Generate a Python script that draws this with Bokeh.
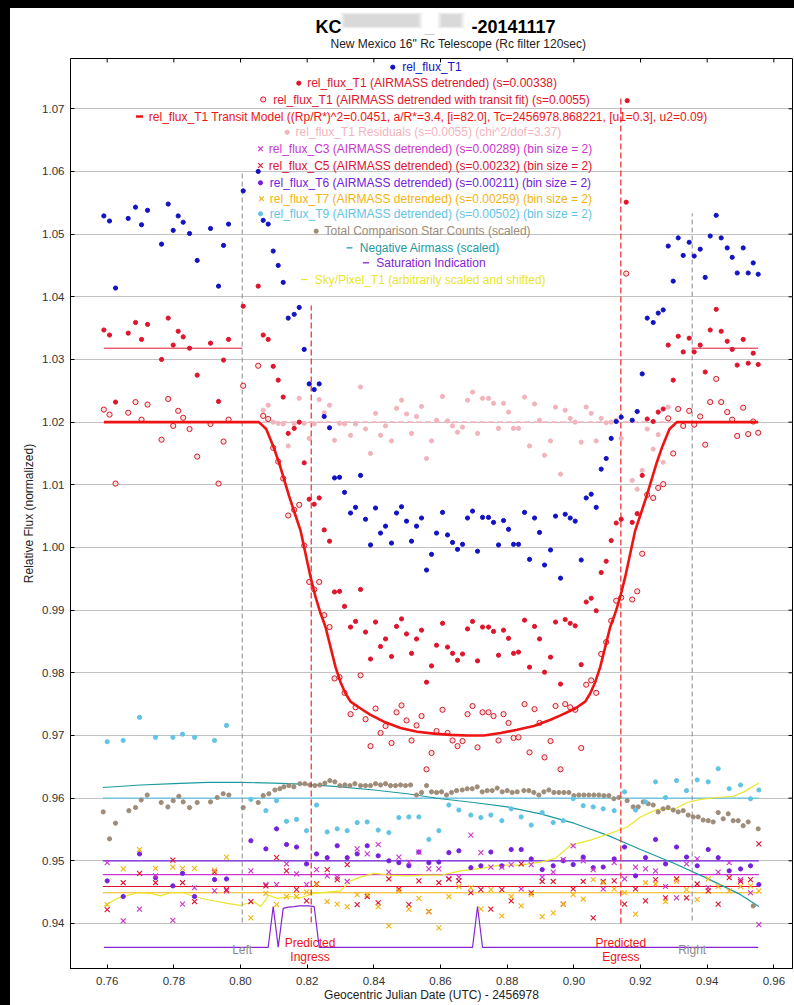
from bokeh.plotting import figure
from bokeh.models import Range1d, FixedTicker, PrintfTickFormatter, Div
from bokeh.layouts import column, row
from bokeh.embed import file_html
from bokeh.resources import INLINE
from bokeh.core.properties import value

nan = float("nan")

# ---------------------------------------------------------------- data
# Geocentric JD - 2456978 of each exposure of the target
t_obs = [
    0.7590, 0.7607, 0.7625, 0.7663, 0.7685, 0.7703, 0.7721, 0.7763, 0.7783, 0.7798,
    0.7813, 0.7828, 0.7847, 0.7870, 0.7910, 0.7934, 0.7949, 0.7964, 0.8008, 0.8053,
    0.8068, 0.8083, 0.8098, 0.8113, 0.8128, 0.8143, 0.8161, 0.8176, 0.8191, 0.8206,
    0.8221, 0.8236, 0.8251, 0.8267, 0.8282, 0.8297, 0.8312, 0.8330, 0.8345, 0.8360,
    0.8375, 0.8390, 0.8405, 0.8420, 0.8435, 0.8453, 0.8468, 0.8483, 0.8498, 0.8513,
    0.8528, 0.8543, 0.8558, 0.8573, 0.8588, 0.8606, 0.8621, 0.8636, 0.8651, 0.8666,
    0.8681, 0.8696, 0.8711, 0.8726, 0.8744, 0.8759, 0.8774, 0.8789, 0.8804, 0.8819,
    0.8834, 0.8852, 0.8867, 0.8882, 0.8897, 0.8912, 0.8930, 0.8945, 0.8960, 0.8974,
    0.8989, 0.9004, 0.9022, 0.9037, 0.9052, 0.9067, 0.9082, 0.9097, 0.9112, 0.9127,
    0.9142, 0.9157, 0.9160, 0.9175, 0.9190, 0.9205, 0.9220, 0.9238, 0.9253, 0.9268,
    0.9283, 0.9298, 0.9313, 0.9328, 0.9346, 0.9361, 0.9379, 0.9394, 0.9409, 0.9427,
    0.9442, 0.9460, 0.9475, 0.9490, 0.9508, 0.9523, 0.9538, 0.9553]

rel_flux_T1 = [
    1.0529, 1.0521, 1.0414, 1.0525, 1.0543, 1.0515, 1.0538, 1.0484, 1.0548, 1.0506,
    1.0529, 1.0519, 1.0501, 1.0458, 1.0509, 1.0417, 1.0482, 1.0516, 1.0569, 1.0600,
    1.0522, 1.0516, 1.0473, 1.0450, 1.0423, 1.0366, 1.0372, 1.0383, 1.0316, 1.0261,
    1.0252, 1.0261, 1.0209, 1.0191, 1.0111, 1.0112, 1.0088, 1.0055, 1.0064, 1.0115,
    1.0045, 1.0004, 1.0063, 1.0023, 1.0034, 1.0007, 1.0055, 1.0065, 1.0042, 1.0010,
    1.0034, 1.0047, 0.9964, 0.9989, 1.0023, 1.0056, 1.0020, 1.0008, 0.9997, 1.0005,
    1.0047, 1.0058, 0.9994, 1.0048, 1.0048, 1.0040, 1.0004, 1.0043, 1.0029, 1.0005,
    1.0005, 1.0056, 0.9981, 1.0047, 1.0024, 0.9972, 0.9996, 1.0050, 0.9951, 1.0053,
    1.0047, 1.0042, 0.9980, 1.0079, 1.0085, 1.0064, 1.0125, 1.0142, 1.0174, 1.0201,
    1.0208, nan, nan, 1.0203, 1.0217, 1.0277, 1.0366, 1.0359, 1.0374, 1.0379,
    1.0481, 1.0425, 1.0494, 1.0466, 1.0487, 1.0465, 1.0476, 1.0431, 1.0497, 1.0530,
    1.0494, 1.0478, 1.0463, 1.0438, 1.0478, 1.0438, 1.0454, 1.0436]

rel_flux_T1_detr = [
    1.0347, 1.0339, 1.0232, 1.0342, 1.0359, 1.0332, 1.0356, 1.0300, 1.0366, 1.0323,
    1.0345, 1.0336, 1.0318, 1.0275, 1.0326, 1.0233, 1.0299, 1.0332, 1.0385, 1.0417,
    1.0339, 1.0332, 1.0289, 1.0267, 1.0240, 1.0182, 1.0190, 1.0200, 1.0135, 1.0077,
    1.0069, 1.0079, 1.0028, 1.0010, 0.9929, 0.9930, 0.9906, 0.9873, 0.9882, 0.9933,
    0.9865, 0.9822, 0.9881, 0.9842, 0.9854, 0.9826, 0.9874, 0.9886, 0.9862, 0.9831,
    0.9854, 0.9868, 0.9785, 0.9811, 0.9844, 0.9879, 0.9841, 0.9831, 0.9820, 0.9830,
    0.9870, 0.9882, 0.9819, 0.9873, 0.9873, 0.9866, 0.9828, 0.9868, 0.9855, 0.9831,
    0.9833, 0.9884, 0.9809, 0.9874, 0.9854, 0.9801, 0.9825, 0.9881, 0.9782, 0.9885,
    0.9879, 0.9875, 0.9813, 0.9913, 0.9919, 0.9899, 0.9960, 0.9978, 1.0011, 1.0039,
    1.0045, 1.0551, 1.0713, 1.0040, 1.0054, 1.0115, 1.0205, 1.0201, 1.0216, 1.0221,
    1.0323, 1.0267, 1.0337, 1.0312, 1.0334, 1.0312, 1.0323, 1.0280, 1.0347, 1.0380,
    1.0345, 1.0329, 1.0316, 1.0291, 1.0332, 1.0294, 1.0310, 1.0292]

rel_flux_T1_fit = [
    1.0220, 1.0212, 1.0102, 1.0215, 1.0232, 1.0204, 1.0228, 1.0172, 1.0237, 1.0194,
    1.0218, 1.0207, 1.0189, 1.0145, 1.0197, 1.0102, 1.0169, 1.0204, 1.0258, 1.0290,
    1.0210, 1.0205, 1.0159, 1.0137, 1.0110, 1.0051, 1.0060, 1.0068, 1.0003, 0.9945,
    0.9933, 0.9945, 0.9892, 0.9873, 0.9791, 0.9793, 0.9768, 0.9734, 0.9745, 0.9796,
    0.9726, 0.9683, 0.9743, 0.9704, 0.9715, 0.9688, 0.9737, 0.9748, 0.9724, 0.9692,
    0.9716, 0.9731, 0.9646, 0.9672, 0.9707, 0.9741, 0.9704, 0.9692, 0.9683, 0.9691,
    0.9734, 0.9747, 0.9681, 0.9737, 0.9737, 0.9731, 0.9692, 0.9734, 0.9720, 0.9696,
    0.9697, 0.9750, 0.9673, 0.9742, 0.9720, 0.9665, 0.9691, 0.9747, 0.9646, 0.9750,
    0.9745, 0.9741, 0.9680, 0.9781, 0.9788, 0.9768, 0.9830, 0.9849, 0.9883, 0.9915,
    0.9920, 1.0437, nan, 0.9917, 0.9930, 0.9990, 1.0084, 1.0079, 1.0095, 1.0101,
    1.0206, 1.0150, 1.0221, 1.0194, 1.0218, 1.0196, 1.0209, 1.0164, 1.0232, 1.0269,
    1.0232, 1.0216, 1.0204, 1.0178, 1.0223, 1.0181, 1.0201, 1.0183]

rel_flux_T1_resid = [
    nan, nan, nan, nan, nan, nan, nan, nan, nan, nan,
    nan, nan, nan, nan, nan, nan, nan, nan, nan, nan,
    1.0219, 1.0227, 1.0200, 1.0198, 1.0197, 1.0162, 1.0197, 1.0238, 1.0198, 1.0174,
    1.0197, 1.0236, 1.0215, 1.0227, 1.0171, 1.0198, 1.0197, 1.0179, 1.0197, 1.0256,
    1.0189, 1.0150, 1.0214, 1.0179, 1.0194, 1.0170, 1.0222, 1.0235, 1.0213, 1.0182,
    1.0209, 1.0225, 1.0142, 1.0170, 1.0203, 1.0241, 1.0202, 1.0194, 1.0184, 1.0192,
    1.0235, 1.0248, 1.0182, 1.0238, 1.0238, 1.0230, 1.0190, 1.0230, 1.0216, 1.0190,
    1.0190, 1.0240, 1.0162, 1.0229, 1.0203, 1.0147, 1.0170, 1.0224, 1.0117, 1.0219,
    1.0206, 1.0200, 1.0168, 1.0224, 1.0214, 1.0170, 1.0206, 1.0199, 1.0200, 1.0203,
    1.0174, nan, nan, 1.0107, 1.0093, 1.0123, 1.0189, 1.0157, 1.0180, 1.0136,
    1.0224, nan, nan, nan, nan, nan, nan, nan, nan, nan,
    nan, nan, nan, nan, nan, nan, nan, nan]

# transit model of the detrended light curve
t_model = [
    0.7590, 0.8055, 0.8077, 0.8100, 0.8115, 0.8130, 0.8145, 0.8165, 0.8180, 0.8195,
    0.8210, 0.8225, 0.8240, 0.8255, 0.8270, 0.8285, 0.8300, 0.8315, 0.8330, 0.8360,
    0.8390, 0.8430, 0.8480, 0.8530, 0.8580, 0.8630, 0.8680, 0.8730, 0.8780, 0.8830,
    0.8880, 0.8930, 0.8960, 0.9004, 0.9034, 0.9049, 0.9064, 0.9079, 0.9094, 0.9109,
    0.9124, 0.9139, 0.9154, 0.9169, 0.9184, 0.9199, 0.9219, 0.9234, 0.9249, 0.9264,
    0.9287, 0.9309, 0.9553]
model_T1 = [
    1.0200, 1.0200, 1.0189, 1.0159, 1.0136, 1.0110, 1.0083, 1.0051, 1.0027, 0.9990,
    0.9953, 0.9921, 0.9895, 0.9873, 0.9841, 0.9809, 0.9785, 0.9767, 0.9754, 0.9743,
    0.9733, 0.9722, 0.9712, 0.9706, 0.9703, 0.9701, 0.9700, 0.9700, 0.9704, 0.9709,
    0.9715, 0.9725, 0.9732, 0.9743, 0.9754, 0.9767, 0.9785, 0.9809, 0.9841, 0.9873,
    0.9895, 0.9921, 0.9953, 0.9990, 1.0027, 1.0051, 1.0083, 1.0110, 1.0136, 1.0159,
    1.0189, 1.0200, 1.0200]

# out-of-transit mean of the detrended target, residual baseline
detr_mean_level = 1.0318
resid_level = 1.0200

# total comparison star counts (scaled)
t_comp = [
    0.7588, 0.7607, 0.7625, 0.7665, 0.7685, 0.7702, 0.7720, 0.7762, 0.7782, 0.7798,
    0.7815, 0.7828, 0.7847, 0.7870, 0.7910, 0.7930, 0.7948, 0.7965, 0.8008, 0.8053,
    0.8068, 0.8085, 0.8103, 0.8118, 0.8130, 0.8145, 0.8160, 0.8178, 0.8193, 0.8208,
    0.8223, 0.8238, 0.8253, 0.8268, 0.8283, 0.8298, 0.8313, 0.8328, 0.8343, 0.8360,
    0.8375, 0.8390, 0.8405, 0.8420, 0.8435, 0.8450, 0.8465, 0.8480, 0.8495, 0.8510,
    0.8528, 0.8543, 0.8558, 0.8573, 0.8588, 0.8603, 0.8618, 0.8633, 0.8648, 0.8665,
    0.8680, 0.8695, 0.8710, 0.8725, 0.8740, 0.8755, 0.8770, 0.8785, 0.8800, 0.8815,
    0.8830, 0.8850, 0.8865, 0.8880, 0.8895, 0.8910, 0.8925, 0.8940, 0.8955, 0.8970,
    0.8985, 0.9000, 0.9015, 0.9030, 0.9045, 0.9060, 0.9075, 0.9090, 0.9105, 0.9120,
    0.9135, 0.9160, 0.9178, 0.9193, 0.9208, 0.9223, 0.9238, 0.9253, 0.9268, 0.9283,
    0.9298, 0.9313, 0.9328, 0.9343, 0.9358, 0.9373, 0.9388, 0.9403, 0.9418, 0.9433,
    0.9448, 0.9463, 0.9478, 0.9493, 0.9508, 0.9523, 0.9538, 0.9553]
comp_counts = [
    0.9578, 0.9535, 0.9560, 0.9580, 0.9585, 0.9597, 0.9605, 0.9593, 0.9586, 0.9596,
    0.9603, 0.9594, 0.9585, 0.9593, 0.9594, 0.9601, 0.9607, 0.9605, 0.9585, 0.9593,
    0.9604, 0.9607, 0.9613, 0.9615, 0.9618, 0.9620, 0.9618, 0.9623, 0.9623, 0.9621,
    0.9620, 0.9621, 0.9624, 0.9628, 0.9626, 0.9620, 0.9621, 0.9620, 0.9623, 0.9620,
    0.9620, 0.9620, 0.9623, 0.9621, 0.9623, 0.9620, 0.9620, 0.9621, 0.9620, 0.9621,
    0.9605, 0.9609, 0.9620, 0.9610, 0.9609, 0.9610, 0.9605, 0.9609, 0.9612, 0.9613,
    0.9615, 0.9615, 0.9618, 0.9610, 0.9612, 0.9612, 0.9616, 0.9610, 0.9612, 0.9609,
    0.9610, 0.9612, 0.9612, 0.9609, 0.9605, 0.9610, 0.9613, 0.9609, 0.9609, 0.9609,
    0.9609, 0.9604, 0.9605, 0.9605, 0.9605, 0.9605, 0.9605, 0.9604, 0.9604, 0.9599,
    0.9601, 0.9596, 0.9586, 0.9586, 0.9594, 0.9591, 0.9589, 0.9578, 0.9583, 0.9585,
    0.9581, 0.9578, 0.9580, 0.9573, 0.9570, 0.9570, 0.9565, 0.9564, 0.9562, 0.9577,
    0.9567, 0.9575, 0.9564, 0.9564, 0.9556, 0.9562, 0.9428, 0.9551]

# comparison / check stars, binned by 2
t_bin = [
    0.7600, 0.7648, 0.7697, 0.7745, 0.7797, 0.7826, 0.7862, 0.7922, 0.7958,
    0.8031, 0.8076, 0.8108, 0.8138, 0.8168, 0.8198, 0.8228, 0.8260, 0.8290, 0.8320,
    0.8350, 0.8380, 0.8413, 0.8445, 0.8475, 0.8505, 0.8535, 0.8565, 0.8595, 0.8625,
    0.8655, 0.8691, 0.8721, 0.8751, 0.8784, 0.8812, 0.8842, 0.8872, 0.8905, 0.8938,
    0.8968, 0.8998, 0.9028, 0.9058, 0.9088, 0.9121, 0.9152, 0.9185, 0.9215, 0.9245,
    0.9275, 0.9308, 0.9338, 0.9370, 0.9403, 0.9433, 0.9466, 0.9500, 0.9530, 0.9555]
rel_flux_C3 = [
    0.9497, 0.9404, 0.9423, 0.9476, 0.9405, 0.9431, 0.9457, 0.9452, 0.9452,
    0.9484, 0.9462, 0.9462, 0.9495, 0.9479, 0.9462, 0.9486, 0.9476, 0.9474, 0.9467,
    0.9519, 0.9511, 0.9526, 0.9482, 0.9506, 0.9498, 0.9514, 0.9487, 0.9487, 0.9471,
    0.9474, 0.9541, 0.9513, 0.9490, 0.9490, 0.9494, 0.9455, 0.9494, 0.9474, 0.9482,
    0.9502, 0.9524, 0.9500, 0.9486, 0.9455, 0.9497, 0.9471, 0.9490, 0.9487, 0.9484,
    0.9459, 0.9441, 0.9495, 0.9503, 0.9457, 0.9482, 0.9497, 0.9470, 0.9449, 0.9398]
rel_flux_C5 = [
    0.9422, 0.9465, 0.9480, 0.9465, 0.9501, 0.9465, 0.9435, 0.9482, 0.9454,
    0.9435, 0.9460, 0.9505, 0.9484, 0.9454, 0.9436, 0.9463, 0.9486, 0.9470, 0.9494,
    0.9430, 0.9443, 0.9433, 0.9471, 0.9455, 0.9430, 0.9468, 0.9419, 0.9465, 0.9471,
    0.9468, 0.9449, 0.9454, 0.9423, 0.9454, 0.9436, 0.9495, 0.9449, 0.9467, 0.9467,
    0.9431, 0.9455, 0.9467, 0.9409, 0.9467, 0.9468, 0.9431, 0.9455, 0.9436, 0.9470,
    0.9441, 0.9471, 0.9441, 0.9463, 0.9452, 0.9431, 0.9473, 0.9467, 0.9470, 0.9527]
rel_flux_T6 = [
    0.9468, 0.9443, 0.9511, 0.9473, 0.9460, 0.9480, 0.9443, 0.9470, 0.9471,
    0.9532, 0.9519, 0.9551, 0.9526, 0.9522, 0.9495, 0.9511, 0.9505, 0.9524, 0.9505,
    0.9511, 0.9524, 0.9508, 0.9500, 0.9497, 0.9492, 0.9514, 0.9497, 0.9498, 0.9513,
    0.9516, 0.9489, 0.9492, 0.9514, 0.9492, 0.9518, 0.9518, 0.9503, 0.9486, 0.9492,
    0.9500, 0.9494, 0.9506, 0.9489, 0.9490, 0.9503, 0.9522, 0.9476, 0.9505, 0.9534,
    0.9495, 0.9522, 0.9506, 0.9492, 0.9518, 0.9505, 0.9484, 0.9487, 0.9492, 0.9462]
rel_flux_T7 = [
    0.9430, 0.9487, 0.9518, 0.9488, 0.9490, 0.9488, 0.9488, 0.9485, 0.9506,
    0.9409, 0.9448, 0.9430, 0.9443, 0.9443, 0.9450, 0.9462, 0.9435, 0.9431, 0.9427,
    0.9446, 0.9446, 0.9427, 0.9396, 0.9452, 0.9423, 0.9440, 0.9419, 0.9393, 0.9443,
    0.9459, 0.9457, 0.9423, 0.9454, 0.9412, 0.9443, 0.9428, 0.9446, 0.9411, 0.9417,
    0.9431, 0.9446, 0.9439, 0.9470, 0.9465, 0.9455, 0.9449, 0.9415, 0.9465, 0.9463,
    0.9435, 0.9467, 0.9454, 0.9438, 0.9471, 0.9459, 0.9452, 0.9459, 0.9460, 0.9452]
rel_flux_T9 = [
    0.9690, 0.9692, 0.9729, 0.9697, 0.9697, 0.9702, 0.9697, 0.9692, 0.9716,
    0.9598, 0.9580, 0.9596, 0.9563, 0.9566, 0.9548, 0.9589, 0.9546, 0.9551, 0.9548,
    0.9561, 0.9562, 0.9549, 0.9545, 0.9569, 0.9570, 0.9570, 0.9534, 0.9548, 0.9589,
    0.9581, 0.9573, 0.9569, 0.9573, 0.9564, 0.9583, 0.9570, 0.9557, 0.9577, 0.9561,
    0.9564, 0.9599, 0.9588, 0.9586, 0.9583, 0.9580, 0.9610, 0.9581, 0.9594, 0.9626,
    0.9601, 0.9628, 0.9612, 0.9629, 0.9626, 0.9647, 0.9615, 0.9621, 0.9599, 0.9613]
mean_C3, mean_C5, mean_T6, mean_T7, mean_T9 = 0.9478, 0.9459, 0.9500, 0.9449, 0.9600

# negative airmass (scaled)
t_airmass = [0.7587, 0.7700, 0.7800, 0.7900, 0.8000, 0.8100, 0.8200, 0.8300, 0.8400,
             0.8500, 0.8600, 0.8700, 0.8800, 0.8900, 0.9000, 0.9100, 0.9200, 0.9300,
             0.9400, 0.9500, 0.9555]
neg_airmass = [0.9617, 0.9621, 0.9623, 0.9625, 0.9625, 0.9624, 0.9622, 0.9618, 0.9613,
               0.9607, 0.9599, 0.9593, 0.9586, 0.9575, 0.9560, 0.9541, 0.9518, 0.9496,
               0.9472, 0.9446, 0.9427]

# sky per pixel of T1 (arbitrarily scaled and shifted)
t_sky = [0.7590, 0.7630, 0.7690, 0.7730, 0.7760, 0.7790, 0.7830, 0.7860, 0.7910, 0.7960,
         0.8000, 0.8040, 0.8060, 0.8085, 0.8110, 0.8150, 0.8180, 0.8220, 0.8260, 0.8300,
         0.8330, 0.8360, 0.8400, 0.8450, 0.8500, 0.8550, 0.8600, 0.8660, 0.8720, 0.8780,
         0.8840, 0.8900, 0.8945, 0.8990, 0.9050, 0.9110, 0.9160, 0.9200, 0.9250, 0.9300,
         0.9340, 0.9380, 0.9430, 0.9480, 0.9510, 0.9555]
sky_T1 = [0.9428, 0.9440, 0.9449, 0.9448, 0.9444, 0.9449, 0.9449, 0.9443, 0.9437, 0.9432,
          0.9429, 0.9435, 0.9427, 0.9445, 0.9440, 0.9443, 0.9441, 0.9448, 0.9450, 0.9452,
          0.9468, 0.9474, 0.9480, 0.9477, 0.9476, 0.9477, 0.9477, 0.9484, 0.9488, 0.9493,
          0.9493, 0.9498, 0.9504, 0.9525, 0.9533, 0.9544, 0.9554, 0.9570, 0.9582, 0.9582,
          0.9593, 0.9598, 0.9601, 0.9603, 0.9610, 0.9624]

# saturation indication
t_sat = [0.7590, 0.8083, 0.8098, 0.8113, 0.8128, 0.8143, 0.8161, 0.8176, 0.8191,
         0.8206, 0.8221, 0.8236, 0.8696, 0.8711, 0.8726, 0.9553]
saturation = [0.9362, 0.9362, 0.9427, 0.9362, 0.9424, 0.9426, 0.9427, 0.9428, 0.9428,
              0.9428, 0.9427, 0.9362, 0.9362, 0.9427, 0.9362, 0.9362]

# fit window and predicted contact times
t_left, t_right = 0.8005, 0.9355
t_ingress, t_egress = 0.8212, 0.9141

x_ticks = [0.76, 0.78, 0.80, 0.82, 0.84, 0.86, 0.88, 0.90, 0.92, 0.94, 0.96]
y_ticks = [0.94, 0.95, 0.96, 0.97, 0.98, 0.99, 1.00, 1.01, 1.02, 1.03, 1.04, 1.05, 1.06, 1.07]

# ---------------------------------------------------------------- styling
FONT = "Liberation Sans"
C_BLUE = "#1212C4"
C_RED = "#E0142C"
C_OPEN = "#D41C2C"
C_MODEL = "#EE1414"
C_PINK = "#F2B4BC"
C_C3 = "#CC36CC"
C_C5 = "#DD1230"
C_T6 = "#7420DC"
C_T7 = "#F2B410"
C_T9 = "#62C4E4"
C_COMP = "#9E8C78"
C_AIR = "#1C9AA0"
C_SAT = "#8424D0"
C_SKY = "#EAE628"
C_GREY = "#8C8C8C"

X0, X1 = 0.74899, 0.96559
Y0, Y1 = 0.932814, 1.078027


def tx(px):
    """page pixel column -> days"""
    return 0.76 + (px - 106.7) / 3333.33


def vy(py):
    """page pixel row -> flux"""
    return 1.07 - (py - 108.3) / 6266.67


# ---------------------------------------------------------------- title strip
# its frame lines up with the main frame (page columns 70..792, rows 8..58)
head = figure(width=784, height=50, x_range=Range1d(70, 792), y_range=Range1d(58, 8),
              output_backend="svg", toolbar_location=None, x_axis_type=None,
              y_axis_type=None, min_border=0, outline_line_color=None,
              background_fill_color="white", border_fill_color="white")
head.grid.visible = False
# redacted part of the object name
for inset, alpha in [(0, 0.22), (2, 0.3), (4, 0.4)]:
    head.quad(left=[340 + inset, 437 + inset], right=[422 - inset, 464 - inset],
              top=[12 + inset / 2, 12 + inset / 2], bottom=[28 - inset / 2, 28 - inset / 2],
              fill_color="#C8C8C8", fill_alpha=alpha, line_alpha=0)
head.text(x=[315], y=[26], text=["KC"], text_align="left", text_baseline="alphabetic",
          text_font=value(FONT), text_font_size="18px", text_font_style="bold",
          text_color="black")
head.text(x=[429], y=[26], text=["_"], text_align="center", text_baseline="alphabetic",
          text_font=value(FONT), text_font_size="18px", text_font_style="bold",
          text_color="#A8A8A8")
head.text(x=[555], y=[26], text=["-20141117"], text_align="right",
          text_baseline="alphabetic", text_font=value(FONT), text_font_size="18px",
          text_font_style="bold", text_color="black")
head.text(x=[330], y=[43], text=['New Mexico 16" Rc Telescope (Rc filter 120sec)'],
          text_align="left", text_baseline="alphabetic", text_font=value(FONT),
          text_font_size="12px", text_color="#222222")

# ---------------------------------------------------------------- main plot
p = figure(width=784, height=947, x_range=Range1d(X0, X1), y_range=Range1d(Y0, Y1),
           output_backend="svg", toolbar_location=None,
           min_border_left=60, min_border_right=2, min_border_top=0, min_border_bottom=37,
           background_fill_color="white", border_fill_color="white")
p.outline_line_color = "black"
p.outline_line_width = 1
p.xgrid.visible = False
p.ygrid.ticker = FixedTicker(ticks=y_ticks)
p.ygrid.grid_line_color = "#C2C2C2"
p.ygrid.grid_line_width = 1

for ax, ticks in [(p.xaxis[0], x_ticks), (p.yaxis[0], y_ticks)]:
    ax.ticker = FixedTicker(ticks=ticks)
    ax.major_tick_in = 4
    ax.major_tick_out = 0
    ax.minor_tick_in = 0
    ax.minor_tick_out = 0
    ax.axis_line_color = "black"
    ax.major_tick_line_color = "black"
    ax.formatter = PrintfTickFormatter(format="%.2f")
    ax.major_label_text_font = FONT
    ax.major_label_text_font_size = "11.5px"
    ax.major_label_text_color = "#333333"
    ax.axis_label_text_font = FONT
    ax.axis_label_text_font_size = "12px"
    ax.axis_label_text_font_style = "normal"
    ax.axis_label_text_color = "#222222"
p.xaxis[0].major_label_standoff = 8
p.xaxis[0].axis_label = "Geocentric Julian Date (UTC) - 2456978"
p.xaxis[0].axis_label_standoff = 0
p.yaxis[0].major_label_standoff = 6
p.yaxis[0].axis_label = "Relative Flux (normalized)"
p.yaxis[0].axis_label_standoff = 3

# inward ticks mirrored on the top and right edges of the frame
p.segment(x0=x_ticks, y0=[Y1] * len(x_ticks), x1=x_ticks,
          y1=[Y1 - 4 / 6266.67] * len(x_ticks), line_color="black", line_width=1)
p.segment(x0=[X1] * len(y_ticks), y0=y_ticks, x1=[X1 - 4 / 3333.33] * len(y_ticks),
          y1=y_ticks, line_color="black", line_width=1)

# legend block (marker kind, marker x, text x, row y in page pixels); data go on top
legend_rows = [
    ("rel_flux_T1", C_BLUE, "dot", 392.3, 401.7, 66.7),
    ("rel_flux_T1 (AIRMASS detrended) (s=0.00338)", C_RED, "dot", 298.3, 306.7, 82.7),
    ("rel_flux_T1 (AIRMASS detrended with transit fit) (s=0.0055)", C_RED, "open", 262.7, 272.7, 99.0),
    ("rel_flux_T1 Transit Model ((Rp/R*)^2=0.0451, a/R*=3.4, [i=82.0], Tc=2456978.868221, [u1=0.3], u2=0.09)",
     C_MODEL, "thick", 139.0, 148.3, 116.0),
    ("rel_flux_T1 Residuals (s=0.0055) (chi^2/dof=3.37)", C_PINK, "dot", 286.7, 295.0, 131.7),
    ("rel_flux_C3 (AIRMASS detrended) (s=0.00289) (bin size = 2)", C_C3, "x", 260.0, 268.3, 148.3),
    ("rel_flux_C5 (AIRMASS detrended) (s=0.00232) (bin size = 2)", C_C5, "x", 260.0, 268.3, 165.0),
    ("rel_flux_T6 (AIRMASS detrended) (s=0.00211) (bin size = 2)", C_T6, "dot", 260.0, 269.3, 182.3),
    ("rel_flux_T7 (AIRMASS detrended) (s=0.00259) (bin size = 2)", C_T7, "x", 261.0, 269.3, 198.3),
    ("rel_flux_T9 (AIRMASS detrended) (s=0.00502) (bin size = 2)", C_T9, "dot", 260.0, 269.3, 213.3),
    ("Total Comparison Star Counts (scaled)", C_COMP, "dot", 315.7, 324.0, 230.7),
    ("Negative Airmass (scaled)", C_AIR, "dash", 349.0, 359.3, 247.3),
    ("Saturation Indication", C_SAT, "dash", 365.5, 375.7, 262.3),
    ("Sky/Pixel_T1 (arbitrarily scaled and shifted)", C_SKY, "dash", 303.5, 314.3, 279.0),
]
for txt, col, kind, mx, sx, ry in legend_rows:
    if kind == "dot":
        p.scatter([tx(mx)], [vy(ry)], marker="circle", size=4.2, color=col)
    elif kind == "open":
        p.scatter([tx(mx)], [vy(ry)], marker="circle", size=5.2, line_color=col,
                  fill_color="#FBE0E0", line_width=1)
    elif kind == "x":
        p.scatter([tx(mx)], [vy(ry)], marker="x", size=6.5, line_color=col, line_width=1.1)
    elif kind == "thick":
        p.segment(x0=[tx(mx - 3.5)], y0=[vy(ry)], x1=[tx(mx + 3.5)], y1=[vy(ry)],
                  line_color=col, line_width=2.6)
    else:
        p.segment(x0=[tx(mx - 3)], y0=[vy(ry)], x1=[tx(mx + 3)], y1=[vy(ry)],
                  line_color=col, line_width=1.3)
    p.text(x=[tx(sx)], y=[vy(ry)], text=[txt], text_align="left", text_baseline="middle",
           text_font=value(FONT), text_font_size="12px", text_color=col)

# comparison-star mean levels
for lvl, col in [(mean_T9, C_T9), (mean_T6, C_T6), (mean_C3, C_C3),
                 (mean_C5, C_C5), (mean_T7, C_T7)]:
    p.line([t_obs[0] - 0.0003, t_obs[-1] + 0.0002], [lvl, lvl], line_color=col, line_width=1.2)

p.line(t_airmass, neg_airmass, line_color=C_AIR, line_width=1.2)
p.line(t_sky, sky_T1, line_color=C_SKY, line_width=1.2)
p.line(t_sat, saturation, line_color=C_SAT, line_width=1.2)

p.scatter(t_comp, comp_counts, marker="circle", size=4.2, color=C_COMP)
p.scatter(t_bin, rel_flux_T9, marker="circle", size=4.2, color=C_T9)
p.scatter(t_bin, rel_flux_T6, marker="circle", size=4.2, color=C_T6)
p.scatter(t_bin, rel_flux_C3, marker="x", size=7, line_color=C_C3, line_width=1.1)
p.scatter(t_bin, rel_flux_C5, marker="x", size=7, line_color=C_C5, line_width=1.1)
p.scatter(t_bin, rel_flux_T7, marker="x", size=7, line_color=C_T7, line_width=1.1)

# fit window and predicted ingress / egress
p.segment(x0=[t_left], y0=[vy(922)], x1=[t_left], y1=[vy(172)],
          line_color=C_GREY, line_dash="5 3", line_width=1)
p.segment(x0=[t_right], y0=[vy(920)], x1=[t_right], y1=[vy(213)],
          line_color=C_GREY, line_dash="5 3", line_width=1)
p.segment(x0=[t_ingress], y0=[vy(922)], x1=[t_ingress], y1=[vy(305)],
          line_color=C_MODEL, line_dash="6 3", line_width=1.1)
p.segment(x0=[t_egress], y0=[vy(923)], x1=[t_egress], y1=[vy(97)],
          line_color=C_MODEL, line_dash="6 3", line_width=1.1)

# residuals
p.line([0.8068, 0.9298], [resid_level, resid_level], line_color=C_PINK,
       line_dash="6 3", line_width=1.6)
p.scatter(t_obs, rel_flux_T1_resid, marker="circle", size=4.2, color=C_PINK)

# target light curves
p.scatter(t_obs, rel_flux_T1_fit, marker="circle", size=5.2, line_color=C_OPEN,
          fill_color="#FBE0E0", line_width=1)
p.scatter(t_obs, rel_flux_T1_detr, marker="circle", size=4.2, color=C_RED)
p.scatter(t_obs, rel_flux_T1, marker="circle", size=4.2, color=C_BLUE)
p.line([t_obs[0], t_left], [detr_mean_level, detr_mean_level], line_color=C_RED, line_width=1)
p.line([t_right, t_obs[-1]], [detr_mean_level, detr_mean_level], line_color=C_RED, line_width=1)
p.line(t_model, model_T1, line_color=C_MODEL, line_width=2.6)


# labels at the bottom of the window / contact lines
def in_text(px, py, txt, col, align="center"):
    p.text(x=[tx(px)], y=[vy(py)], text=[txt], text_align=align,
           text_baseline="alphabetic", text_font=value(FONT),
           text_font_size="12px", text_color=col)


in_text(241.7, 949.5, "Left", C_GREY)
in_text(691.7, 949.5, "Right", C_GREY)
in_text(309.5, 942.5, "Predicted", C_MODEL)
in_text(309.5, 956.5, "Ingress", C_MODEL)
in_text(620.3, 942.5, "Predicted", C_MODEL)
in_text(620.3, 956.5, "Egress", C_MODEL)

top_bar = Div(width=794, height=8, margin=0, styles={"background-color": "#000000"})
left_bar = Div(width=10, height=997, margin=0, styles={"background-color": "#000000"})
page = column(top_bar, row(left_bar, column(head, p, spacing=0), spacing=0), spacing=0)

open("out.html", "w").write(file_html(page, INLINE))
